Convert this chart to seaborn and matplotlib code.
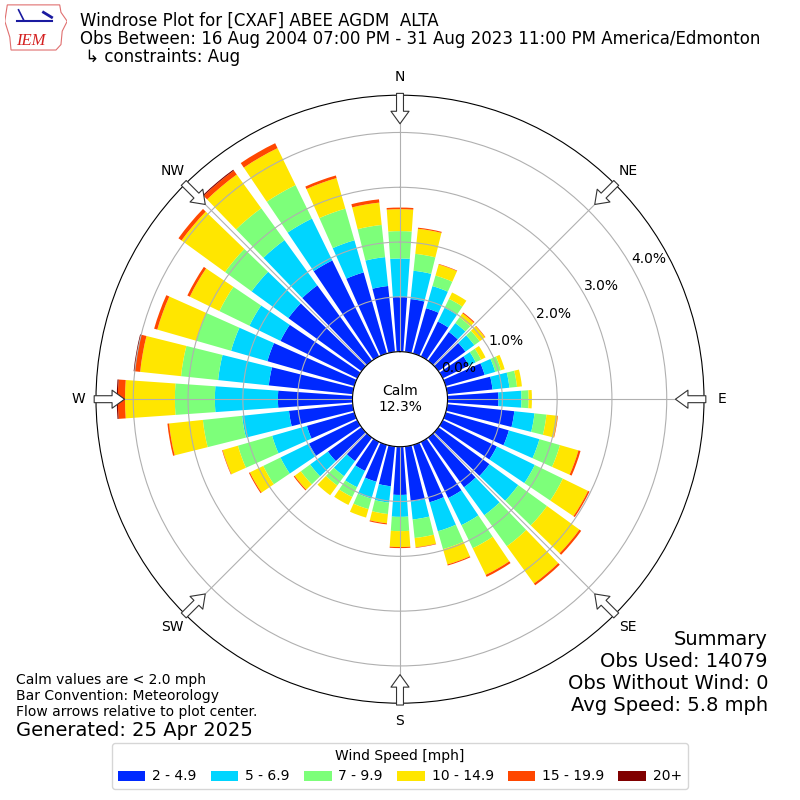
import numpy as np
import matplotlib
matplotlib.use("Agg")
import matplotlib.pyplot as plt
import seaborn as sns
from matplotlib.patches import Polygon

# wind direction of each bar, degrees (meteorological)
directions = list(range(0, 360, 10))
speed_bins = ["2 - 4.9", "5 - 6.9", "7 - 9.9", "10 - 14.9", "15 - 19.9", "20+"]
compass = ["N", "NE", "E", "SE", "S", "SW", "W", "NW"]

# frequency (%) of each speed bin by direction
freq_2_5 = [1.00, 0.97, 0.86, 0.71, 0.65, 0.61, 0.53, 0.74, 0.83, 0.93, 1.23, 1.20,
            1.10, 1.15, 1.12, 1.14, 1.09, 1.01, 0.88, 0.73, 0.70, 0.59, 0.53, 0.76,
            0.98, 0.90, 1.17, 1.36, 1.54, 1.65, 1.56, 1.65, 1.70, 1.95, 1.54, 1.21]
freq_5_7 = [0.70, 0.52, 0.42, 0.28, 0.20, 0.20, 0.14, 0.20, 0.31, 0.42, 0.37, 0.58,
            0.77, 0.65, 0.63, 0.55, 0.55, 0.33, 0.40, 0.30, 0.32, 0.33, 0.34, 0.40,
            0.58, 0.66, 0.86, 1.15, 0.93, 0.69, 0.63, 0.83, 1.02, 0.85, 0.61, 0.53]
freq_7_10 = [0.50, 0.31, 0.20, 0.18, 0.13, 0.12, 0.11, 0.11, 0.14, 0.13, 0.22, 0.39,
             0.57, 0.65, 0.70, 0.47, 0.34, 0.34, 0.26, 0.21, 0.20, 0.20, 0.21, 0.21,
             0.35, 0.65, 0.72, 0.73, 0.68, 0.66, 0.61, 0.60, 0.72, 0.68, 0.60, 0.59]
freq_10_15 = [0.40, 0.46, 0.21, 0.13, 0.09, 0.12, 0.09, 0.07, 0.09, 0.06, 0.20, 0.35,
              0.51, 0.73, 0.84, 0.54, 0.29, 0.17, 0.29, 0.17, 0.16, 0.16, 0.22, 0.14,
              0.27, 0.29, 0.62, 0.91, 0.75, 0.74, 0.60, 0.98, 0.76, 0.75, 0.58, 0.41]
freq_15_20 = [0.03, 0.02, 0.01, 0.00, 0.02, 0.01, 0.00, 0.00, 0.00, 0.00, 0.01, 0.04,
              0.03, 0.04, 0.04, 0.04, 0.02, 0.01, 0.02, 0.02, 0.00, 0.00, 0.00, 0.02,
              0.02, 0.01, 0.03, 0.13, 0.10, 0.06, 0.05, 0.07, 0.09, 0.10, 0.05, 0.06]
freq_20_up = [0.00, 0.00, 0.00, 0.00, 0.00, 0.00, 0.00, 0.00, 0.00, 0.00, 0.00, 0.00,
              0.00, 0.00, 0.00, 0.00, 0.00, 0.00, 0.00, 0.00, 0.00, 0.00, 0.00, 0.00,
              0.00, 0.00, 0.00, 0.02, 0.02, 0.00, 0.00, 0.00, 0.02, 0.00, 0.00, 0.00]
radial_ticks = [0, 1, 2, 3, 4]
calm_pct = 12.3

title = ("Windrose Plot for [CXAF] ABEE AGDM  ALTA\n"
         "Obs Between: 16 Aug 2004 07:00 PM - 31 Aug 2023 11:00 PM America/Edmonton\n"
         " \u21b3 constraints: Aug")
notes = ("Calm values are < 2.0 mph\nBar Convention: Meteorology\n"
         "Flow arrows relative to plot center.")
summary_lines = ["Summary", "Obs Used: 14079", "Obs Without Wind: 0", "Avg Speed: 5.8 mph"]

series = [freq_2_5, freq_5_7, freq_7_10, freq_10_15, freq_15_20, freq_20_up]
palette = sns.color_palette(plt.cm.jet(np.linspace(0, 1, 7)[1:])[:, :3])

fig = plt.figure(figsize=(8, 8), dpi=100)
ax = fig.add_axes([0.12, 0.121, 0.76, 0.76], projection="polar")
ax.set_theta_zero_location("N")
ax.set_theta_direction(-1)

theta = np.deg2rad(directions)
bottom = np.zeros(len(directions))
for vals, color, label in zip(series, palette, speed_bins):
    ax.bar(theta, vals, width=np.deg2rad(8), bottom=bottom, color=color,
           label=label, linewidth=0)
    bottom = bottom + np.array(vals)

ax.set_rorigin(-0.867)
ax.set_ylim(0, 4.68)
ax.set_rgrids(radial_ticks, labels=[f"{v:.1f}%" for v in radial_ticks], angle=60)
ax.set_thetagrids(range(0, 360, 45), labels=compass)
ax.tick_params(axis="x", pad=2.5, labelsize=10)
ax.tick_params(axis="y", labelsize=10)

# hollow flow arrows at the edge
for ang in range(0, 360, 45):
    s, c = np.sin(np.deg2rad(ang)), np.cos(np.deg2rad(ang))
    ax.annotate("", xy=(0.5 + 0.453 * s, 0.5 + 0.453 * c),
                xytext=(0.5 + 0.503 * s, 0.5 + 0.503 * c),
                xycoords="axes fraction", annotation_clip=False, zorder=5,
                arrowprops=dict(arrowstyle="simple,head_length=0.9,head_width=1.3,tail_width=0.5",
                                mutation_scale=10, fc="white", ec="#333333", lw=0.8,
                                shrinkA=0, shrinkB=0))

ax.text(0.5, 0.5, f"Calm\n{calm_pct}%", transform=ax.transAxes, ha="center",
        va="center", fontsize=10)

fig.text(0.1, 0.985, title, va="top", fontsize=12, linespacing=1.0)
fig.text(0.02, 0.159, notes, va="top", fontsize=10)
fig.text(0.02, 0.08, "Generated: 25 Apr 2025", va="baseline", fontsize=14)
for i, line in enumerate(summary_lines):
    fig.text(0.96, 0.213 - i * 0.0275, line, va="top", ha="right", fontsize=14)

handles, labels = ax.get_legend_handles_labels()
fig.legend(handles, labels, loc="lower center", ncol=6, title="Wind Speed [mph]",
           bbox_to_anchor=(0.5, 0.005), fontsize=10, title_fontsize=10,
           handletextpad=0.5, columnspacing=1.0)

# small IEM logo
lax = fig.add_axes([0.006, 0.935, 0.078, 0.062])
lax.set_xlim(0, 1)
lax.set_ylim(0, 1)
lax.axis("off")
outline = [(0.04, 0.95), (0.88, 0.95), (0.9, 0.8), (1.0, 0.62), (0.92, 0.42),
           (0.9, 0.15), (0.82, 0.04), (0.1, 0.04), (0.08, 0.3), (0.0, 0.62)]
lax.add_patch(Polygon(outline, closed=True, fill=False, ec="#e07070", lw=0.8))
lax.plot([0.2, 0.75], [0.62, 0.62], color="#1a1aa0", lw=1.5)
lax.plot([0.22, 0.3], [0.85, 0.65], color="#1a1aa0", lw=1.2)
lax.plot([0.62, 0.75], [0.8, 0.7], color="#1a1aa0", lw=2)
lax.text(0.42, 0.22, "IEM", color="#d42020", fontsize=12, fontstyle="italic",
         family="Liberation Serif", ha="center", va="center")

fig.savefig("out.png", dpi=100)
